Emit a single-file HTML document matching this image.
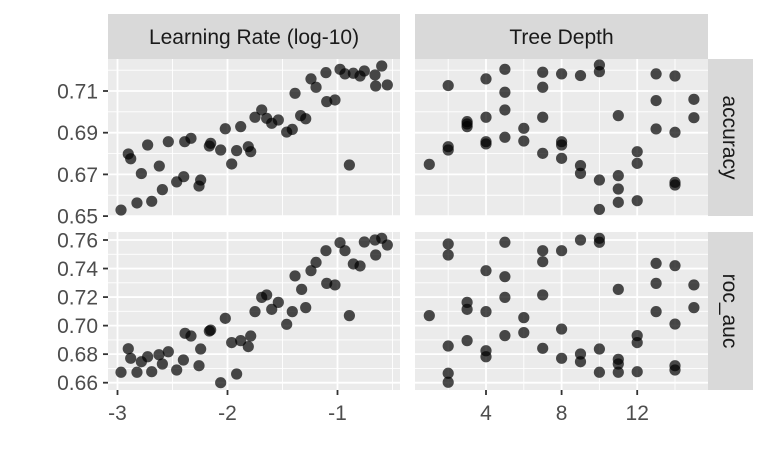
<!DOCTYPE html>
<html><head><meta charset="utf-8"><style>
body{margin:0;background:#fff}
svg{display:block;font-family:"Liberation Sans",sans-serif}
</style></head><body>
<svg id="chart" width="768" height="474" viewBox="0 0 768 474" xmlns="http://www.w3.org/2000/svg"></svg>
<script>
// accuracy vs learning rate
const accLr_x=[-2.968,-2.902,-2.880,-2.823,-2.783,-2.726,-2.689,-2.620,-2.592,-2.538,-2.462,-2.398,-2.389,-2.332,-2.259,-2.244,-2.165,-2.153,-2.062,-2.020,-1.962,-1.917,-1.880,-1.811,-1.789,-1.750,-1.689,-1.644,-1.598,-1.538,-1.462,-1.411,-1.386,-1.335,-1.289,-1.241,-1.195,-1.105,-1.098,-1.023,-0.977,-0.932,-0.892,-0.856,-0.795,-0.756,-0.659,-0.653,-0.598,-0.547];
const accLr_y=[0.6529,0.6798,0.6775,0.6563,0.6704,0.6841,0.6571,0.674,0.6627,0.6857,0.6664,0.6689,0.6857,0.6873,0.6644,0.6673,0.6836,0.6849,0.6817,0.6919,0.675,0.6814,0.6929,0.6833,0.6809,0.6974,0.7009,0.6969,0.6945,0.6961,0.6903,0.6916,0.7089,0.6982,0.6967,0.7158,0.7118,0.7188,0.7049,0.7057,0.7204,0.7182,0.6745,0.7185,0.7172,0.7196,0.7177,0.7124,0.7220,0.7129];
// accuracy vs tree depth
const accD_x=[1,2,2,2,3,3,3,4,4,4,4,5,5,5,5,6,6,7,7,7,7,8,8,8,8,9,9,9,10,10,10,10,11,11,11,11,12,12,12,13,13,13,14,14,14,14,15,15];
const accD_y=[0.6748,0.7126,0.6833,0.6817,0.6953,0.6942,0.6929,0.7158,0.6974,0.6857,0.6846,0.7204,0.7094,0.7009,0.6878,0.6921,0.6860,0.7190,0.7118,0.6974,0.6801,0.7182,0.6857,0.6841,0.6777,0.7174,0.6742,0.6705,0.7225,0.7193,0.6673,0.6532,0.6982,0.6694,0.6630,0.6566,0.6809,0.6753,0.6574,0.7182,0.7054,0.6918,0.7172,0.6902,0.6662,0.6649,0.7060,0.6972];
// roc_auc vs learning rate
const aucLr_x=[-2.968,-2.902,-2.880,-2.823,-2.783,-2.726,-2.689,-2.623,-2.592,-2.538,-2.462,-2.401,-2.386,-2.332,-2.259,-2.244,-2.165,-2.153,-2.020,-2.062,-1.962,-1.917,-1.880,-1.811,-1.789,-1.750,-1.689,-1.644,-1.598,-1.538,-1.462,-1.411,-1.386,-1.326,-1.289,-1.241,-1.195,-1.105,-1.098,-1.023,-0.977,-0.932,-0.892,-0.856,-0.795,-0.756,-0.659,-0.653,-0.598,-0.547];
const aucLr_y=[0.6673,0.6838,0.6771,0.6673,0.6747,0.6782,0.6677,0.6796,0.6731,0.6817,0.6689,0.6759,0.6946,0.6927,0.6719,0.6836,0.6962,0.6969,0.7051,0.66,0.6881,0.6661,0.6895,0.6853,0.6927,0.7098,0.7198,0.7215,0.7114,0.7163,0.7009,0.7098,0.7348,0.7254,0.7126,0.7385,0.7443,0.7525,0.7296,0.7285,0.7581,0.7525,0.707,0.7432,0.7418,0.7586,0.76,0.7495,0.7612,0.7565];
// roc_auc vs tree depth
const aucD_x=[1,2,2,2,2,2,3,3,3,4,4,4,4,5,5,5,5,6,6,7,7,7,7,8,8,8,9,9,9,10,10,10,10,11,11,11,11,12,12,12,13,13,13,14,14,14,14,15,15];
const aucD_y=[0.707,0.7572,0.7495,0.6857,0.6666,0.6603,0.7163,0.7114,0.6895,0.7385,0.7098,0.6824,0.6782,0.7584,0.7343,0.7198,0.6930,0.7056,0.6951,0.7525,0.7448,0.7215,0.6841,0.7525,0.6976,0.6771,0.76,0.6801,0.6747,0.7612,0.7584,0.6836,0.6673,0.7254,0.6764,0.6731,0.6673,0.6930,0.6881,0.6677,0.7436,0.7296,0.7098,0.742,0.7011,0.6719,0.6689,0.7285,0.7126];
const lrTicks=[-3,-2,-1], lrMinor=[-2.5,-1.5,-0.5];
const dTicks=[4,8,12], dMinor=[2,6,10,14];
const accTicks=[0.65,0.67,0.69,0.71], accMinor=[0.66,0.68,0.70,0.72];
const aucTicks=[0.66,0.68,0.70,0.72,0.74,0.76], aucMinor=[0.67,0.69,0.71,0.73,0.75];

const NS="http://www.w3.org/2000/svg";
const svg=document.getElementById('chart');
function mk(tag,attrs,parent){const e=document.createElementNS(NS,tag);for(const k in attrs)e.setAttribute(k,attrs[k]);(parent||svg).appendChild(e);return e;}
const xLr=v=>117.5+110*(v+3);
const xD=v=>429.3+18.9*(v-1);
const yAcc=v=>91-(v-0.71)*2085;
const yAuc=v=>240-(v-0.76)*1427;
const L={x0:108,x1:400}, R={x0:415,x1:708}, T={y0:59,y1:216}, B={y0:232,y1:390};

function panel(name,px,py,fx,fy,xt,xm,yt,ym,xs,ys){
  const g=mk('g',{});
  
  
  mk('rect',{x:px.x0,y:py.y0,width:px.x1-px.x0,height:py.y1-py.y0,fill:'#ebebeb'},g);
  ym.forEach(v=>mk('line',{x1:px.x0,x2:px.x1,y1:fy(v),y2:fy(v),stroke:'#fff','stroke-width':0.9},g));
  xm.forEach(v=>mk('line',{y1:py.y0,y2:py.y1,x1:fx(v),x2:fx(v),stroke:'#fff','stroke-width':0.9},g));
  yt.forEach(v=>mk('line',{x1:px.x0,x2:px.x1,y1:fy(v),y2:fy(v),stroke:'#fff','stroke-width':1.8},g));
  xt.forEach(v=>mk('line',{y1:py.y0,y2:py.y1,x1:fx(v),x2:fx(v),stroke:'#fff','stroke-width':1.8},g));
  xs.forEach((v,i)=>{
    const c=mk('circle',{cx:fx(v),cy:fy(ys[i]),r:5.6,fill:'#000','fill-opacity':0.7},g);
    
    
  });
}
panel('accuracy-learning-rate-panel',L,T,xLr,yAcc,lrTicks,lrMinor,accTicks,accMinor,accLr_x,accLr_y);
panel('accuracy-tree-depth-panel',R,T,xD,yAcc,dTicks,dMinor,accTicks,accMinor,accD_x,accD_y);
panel('roc-auc-learning-rate-panel',L,B,xLr,yAuc,lrTicks,lrMinor,aucTicks,aucMinor,aucLr_x,aucLr_y);
panel('roc-auc-tree-depth-panel',R,B,xD,yAuc,dTicks,dMinor,aucTicks,aucMinor,aucD_x,aucD_y);

function strip(name,x,y,w,h,text,rot){
  const g=mk('g',{});
  
  
  mk('rect',{x:x,y:y,width:w,height:h,fill:'#d9d9d9'},g);
  const cx=x+w/2, cy=y+h/2;
  const t=mk('text',{x:cx,y:cy+7.5,'text-anchor':'middle','font-size':21,fill:'#1a1a1a'},g);
  if(rot){t.setAttribute('transform','rotate(90 '+cx+' '+cy+')');}
  t.textContent=text;
}
strip('strip-learning-rate',L.x0,14,L.x1-L.x0,45,'Learning Rate (log-10)');
strip('strip-tree-depth',R.x0,14,R.x1-R.x0,45,'Tree Depth');
strip('strip-accuracy',708,T.y0,45,T.y1-T.y0,'accuracy',true);
strip('strip-roc-auc',708,B.y0,45,B.y1-B.y0,'roc_auc',true);

function yAxis(name,ticks,fy){
  const g=mk('g',{});
  
  
  ticks.forEach(v=>{
    mk('line',{x1:103,x2:108,y1:fy(v),y2:fy(v),stroke:'#333','stroke-width':1.8},g);
    const t=mk('text',{x:98,y:fy(v)+7.5,'text-anchor':'end','font-size':21,fill:'#4d4d4d'},g);
    t.textContent=v.toFixed(2);
  });
}
yAxis('y-axis-accuracy',accTicks,yAcc);
yAxis('y-axis-roc-auc',aucTicks,yAuc);
function xAxis(name,ticks,fx){
  const g=mk('g',{});
  
  
  ticks.forEach(v=>{
    mk('line',{x1:fx(v),x2:fx(v),y1:390,y2:395,stroke:'#333','stroke-width':1.8},g);
    const t=mk('text',{x:fx(v),y:420,'text-anchor':'middle','font-size':21,fill:'#4d4d4d'},g);
    t.textContent=String(v);
  });
}
xAxis('x-axis-learning-rate',lrTicks,xLr);
xAxis('x-axis-tree-depth',dTicks,xD);
</script>
</body></html>
